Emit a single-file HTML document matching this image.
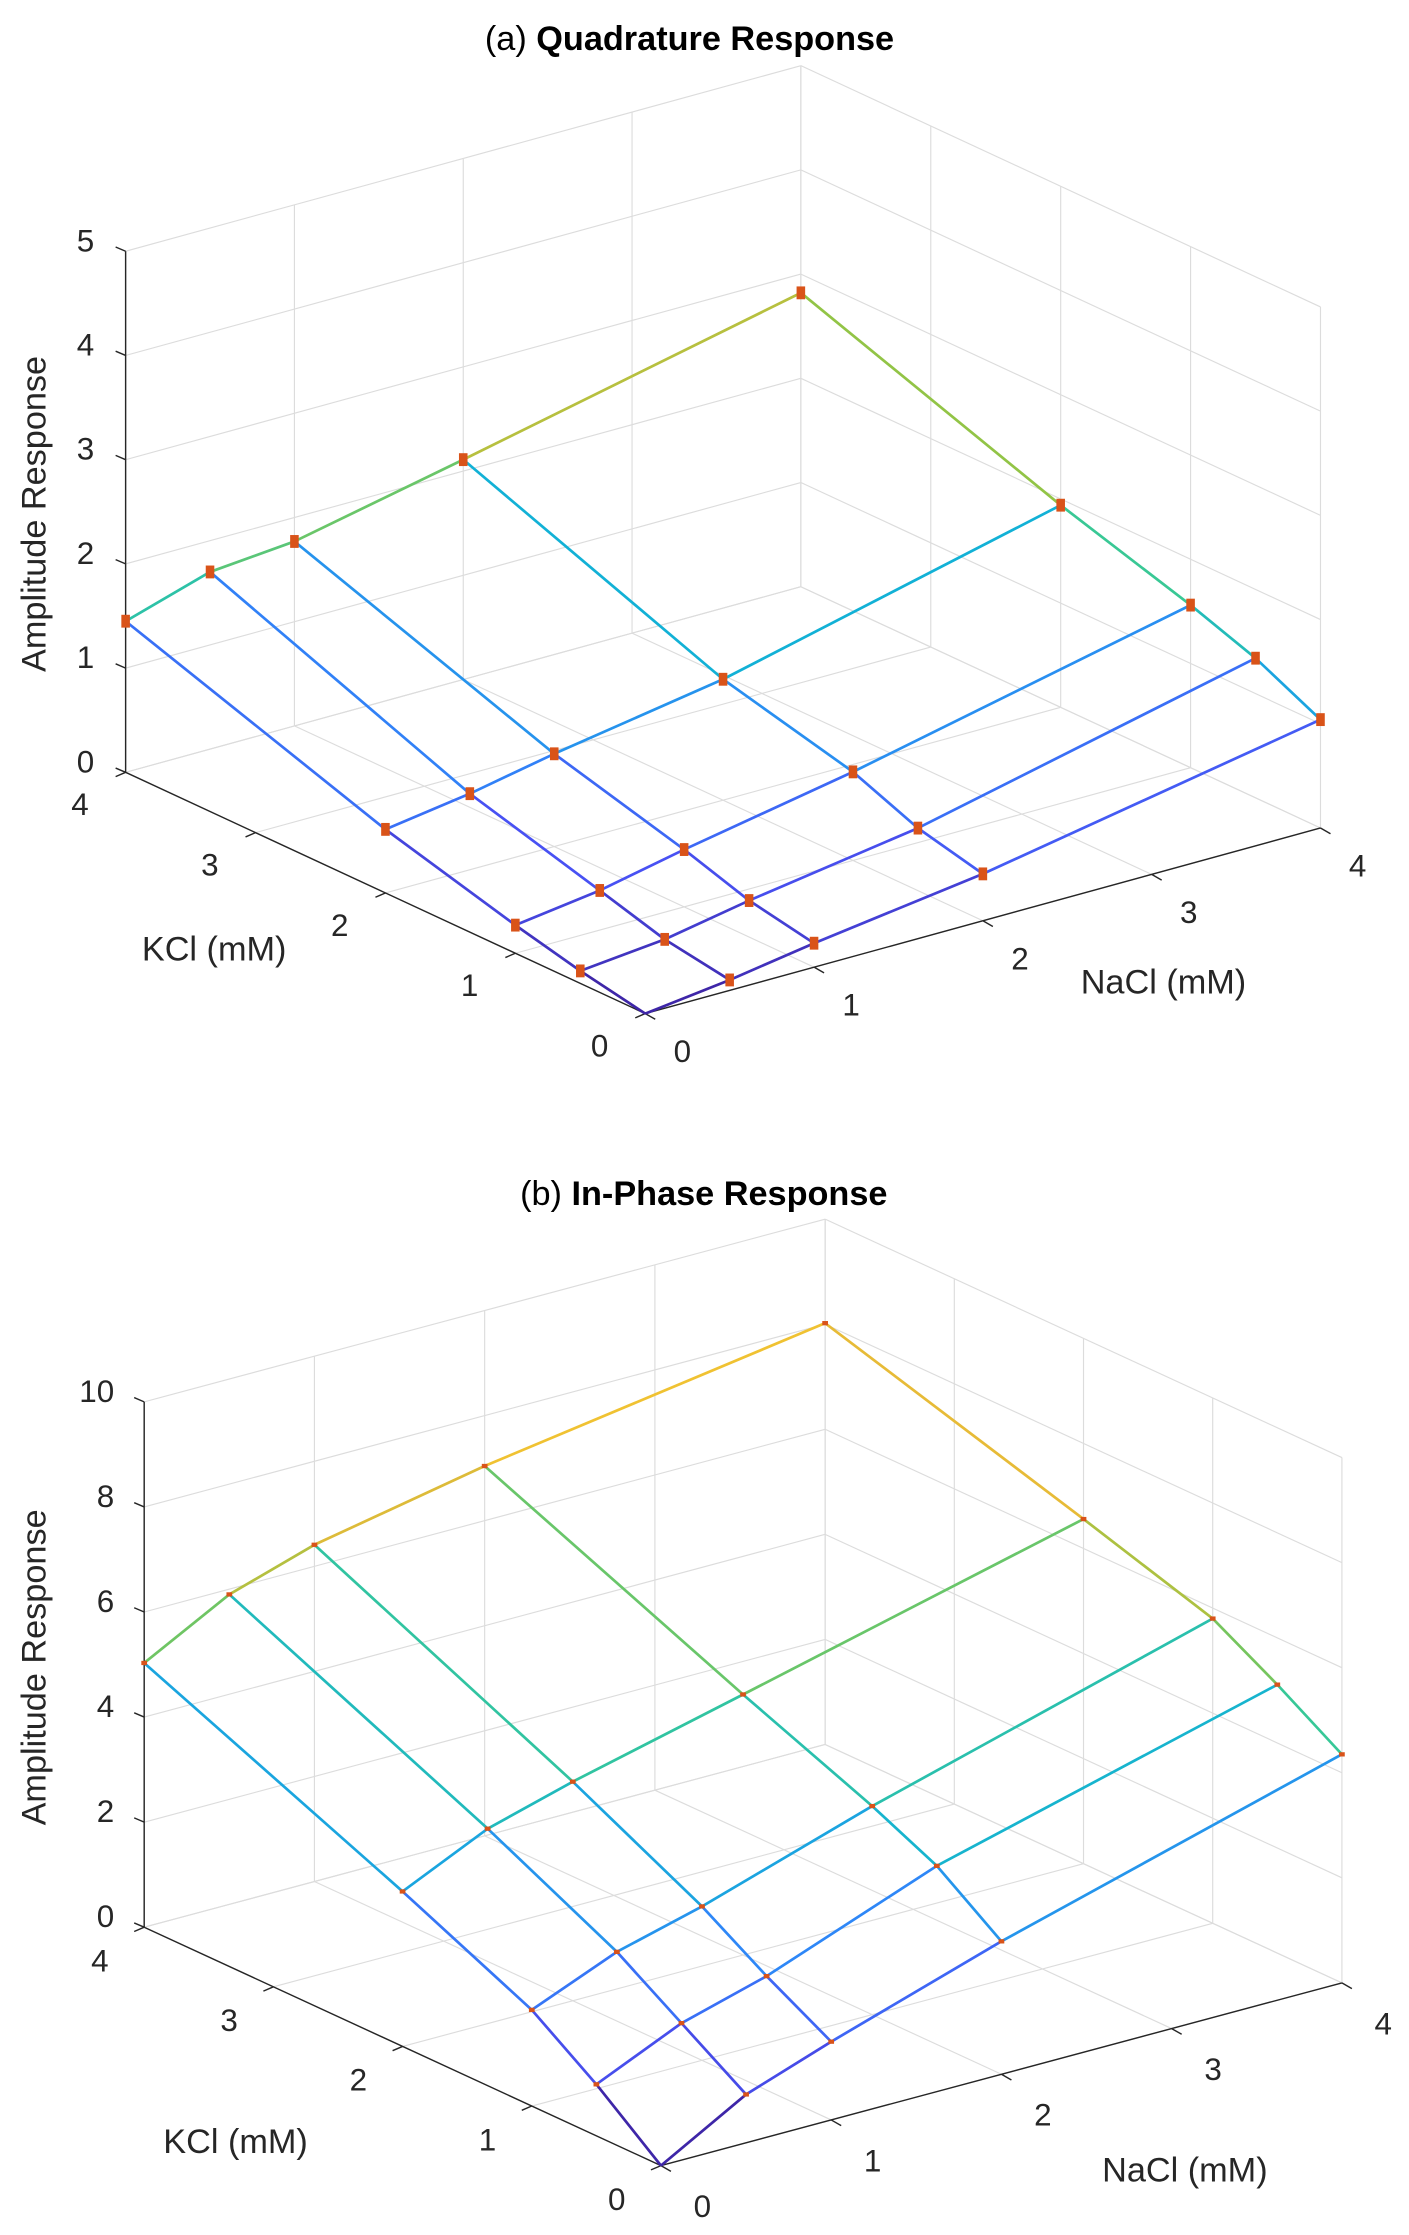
<!DOCTYPE html>
<html><head><meta charset="utf-8"><style>
html,body{margin:0;padding:0;background:#fff;}
svg{display:block;font-family:"Liberation Sans",Arial,sans-serif;}
</style></head><body>
<svg id="fig" width="1409" height="2235" viewBox="0 0 987 1565.6" preserveAspectRatio="none" xmlns="http://www.w3.org/2000/svg">
<rect width="987" height="1565.6" fill="#fff"/>
<text x="483" y="35" text-anchor="middle" font-size="24"><tspan>(a) </tspan><tspan font-weight="bold">Quadrature Response</tspan></text>
<text x="493" y="844" text-anchor="middle" font-size="24"><tspan>(b)  </tspan><tspan font-weight="bold">In-Phase Response</tspan></text>
<g id="pa"></g>
<g id="pb"></g>
</svg>
<script>
const nacl = [0, 0.5, 1, 2, 4];
const kcl = [0, 0.5, 1, 2, 4];
const axisTicks = [0, 1, 2, 3, 4];
const zTicksA = [0, 1, 2, 3, 4, 5];
const zTicksB = [0, 2, 4, 6, 8, 10];
// rows: kcl index, columns: nacl index
const zQuad = [
  [0, 0.1, 0.23, 0.45, 1.04],
  [0.12, 0.2, 0.35, 0.6, 1.34],
  [0.27, 0.38, 0.55, 0.85, 1.56],
  [0.61, 0.73, 0.89, 1.16, 1.94],
  [1.45, 1.7, 1.77, 2.11, 2.82]
];
const zInPhase = [
  [0, 0.92, 1.49, 2.53, 4.35],
  [0.98, 1.71, 2.17, 3.4, 5.11],
  [1.83, 2.5, 2.93, 3.97, 5.8],
  [2.95, 3.71, 4.17, 4.96, 6.56],
  [5.03, 5.9, 6.41, 7.04, 8.02]
];

const NS = "http://www.w3.org/2000/svg";
const PAR = [[0,[62,38,168]],[0.125,[72,82,244]],[0.25,[46,135,247]],[0.375,[18,177,214]],[0.5,[55,200,151]],[0.625,[145,196,70]],[0.75,[230,186,55]],[0.875,[252,202,45]],[1,[249,251,14]]];
function parula(t){t=Math.max(0,Math.min(1,t));for(let i=1;i<PAR.length;i++){if(t<=PAR[i][0]){const a=PAR[i-1],b=PAR[i];const f=(t-a[0])/(b[0]-a[0]);const c=a[1].map((v,j)=>Math.round(v+(b[1][j]-v)*f));return `rgb(${c[0]},${c[1]},${c[2]})`;}}return "rgb(249,251,14)";}
function el(parent,tag,attrs){const e=document.createElementNS(NS,tag);for(const k in attrs)e.setAttribute(k,attrs[k]);parent.appendChild(e);return e;}

function drawPlot(g,cfg,Z,zTicks){
  const P=(n,k,z)=>[cfg.ox+n*cfg.nx+k*cfg.kx, cfg.oy+n*cfg.ny+k*cfg.ky - z*cfg.zs];
  const zMax=zTicks[zTicks.length-1];
  const grid="#dcdcdc";
  const line=(a,b,st,w,name)=>{const e=el(g,"line",{x1:a[0],y1:a[1],x2:b[0],y2:b[1],stroke:st,"stroke-width":w});return e;};
  axisTicks.forEach(t=>{
    line(P(t,0,0),P(t,4,0),grid,0.8,'floor-grid-line');
    line(P(0,t,0),P(4,t,0),grid,0.8,'floor-grid-line');
    line(P(t,4,0),P(t,4,zMax),grid,0.8,'wall-grid-line');
    line(P(4,t,0),P(4,t,zMax),grid,0.8,'wall-grid-line');
  });
  zTicks.forEach(z=>{
    line(P(0,4,z),P(4,4,z),grid,0.8,'wall-grid-line');
    line(P(4,4,z),P(4,0,z),grid,0.8,'wall-grid-line');
  });
  const ax="#262626";
  line(P(0,4,0),P(0,4,zMax),ax,1,'z-axis-line');
  line(P(0,0,0),P(0,4,0),ax,1,'kcl-axis-line');
  line(P(0,0,0),P(4,0,0),ax,1,'nacl-axis-line');
  zTicks.forEach(z=>{
    const p=P(0,4,z);
    line(p,[p[0]-7,p[1]-3],ax,1,'z-tick');
    const t=el(g,"text",{x:cfg.zlx,y:p[1]+cfg.zly,"text-anchor":"end","font-size":22,fill:"#262626"});
    t.textContent=z;
  });
  axisTicks.forEach(v=>{
    const p=P(0,v,0);
    line(p,[p[0]-7,p[1]+3],ax,1,'kcl-tick');
    const t=el(g,"text",{x:p[0]+cfg.klx,y:p[1]+cfg.kly,"text-anchor":"middle","font-size":22,fill:"#262626"});
    t.textContent=v;
    const q=P(v,0,0);
    line(q,[q[0]+7,q[1]+4],ax,1,'nacl-tick');
    const u=el(g,"text",{x:q[0]+cfg.nlx,y:q[1]+cfg.nly,"text-anchor":"middle","font-size":22,fill:"#262626"});
    u.textContent=v;
  });
  let t=el(g,"text",{x:0,y:0,"text-anchor":"middle","font-size":24,fill:"#262626",transform:`translate(${cfg.ztx},${cfg.zty}) rotate(-90)`});
  t.textContent="Amplitude Response";
  t=el(g,"text",{x:cfg.ktx,y:cfg.kty,"text-anchor":"middle","font-size":24,fill:"#262626"});
  t.textContent="KCl (mM)";
  t=el(g,"text",{x:cfg.ntx,y:cfg.nty,"text-anchor":"middle","font-size":24,fill:"#262626"});
  t.textContent="NaCl (mM)";
  const col=z=>parula(z/cfg.clim);
  for(let i=0;i<kcl.length;i++)for(let j=0;j<nacl.length;j++){
    if(j+1<nacl.length){const z1=Z[i][j],z2=Z[i][j+1];line(P(nacl[j],kcl[i],z1),P(nacl[j+1],kcl[i],z2),col(z1),1.9,'mesh-segment');}
    if(i+1<kcl.length){const z1=Z[i][j],z2=Z[i+1][j];line(P(nacl[j],kcl[i],z1),P(nacl[j],kcl[i+1],z2),col(z1),1.9,'mesh-segment');}
  }
  for(let i=0;i<kcl.length;i++)for(let j=0;j<nacl.length;j++){
    if(i===0&&j===0)continue;
    const p=P(nacl[j],kcl[i],Z[i][j]);
    const r=el(g,"rect",{x:p[0]-cfg.mw/2,y:p[1]-cfg.mh/2,width:cfg.mw,height:cfg.mh,fill:"#d95319"});
    
  }
}
drawPlot(document.getElementById('pa'),{ox:452,oy:710,nx:118.25,ny:-32.5,kx:-91,ky:-42.25,zs:73,clim:3.1,
  zlx:66,zly:0,klx:-32,kly:30,nlx:26,nly:34,ztx:32,zty:360,ktx:150,kty:673,ntx:815,nty:696,mw:6,mh:9},zQuad,zTicksA);
drawPlot(document.getElementById('pb'),{ox:463,oy:1517,nx:119.25,ny:-32,kx:-90.5,ky:-41.75,zs:36.8,clim:8.7,
  zlx:80,zly:0,klx:-31,kly:31,nlx:29,nly:36,ztx:32,zty:1168,ktx:165,kty:1508,ntx:830,nty:1528,mw:4,mh:3},zInPhase,zTicksB);
</script>
</body></html>
